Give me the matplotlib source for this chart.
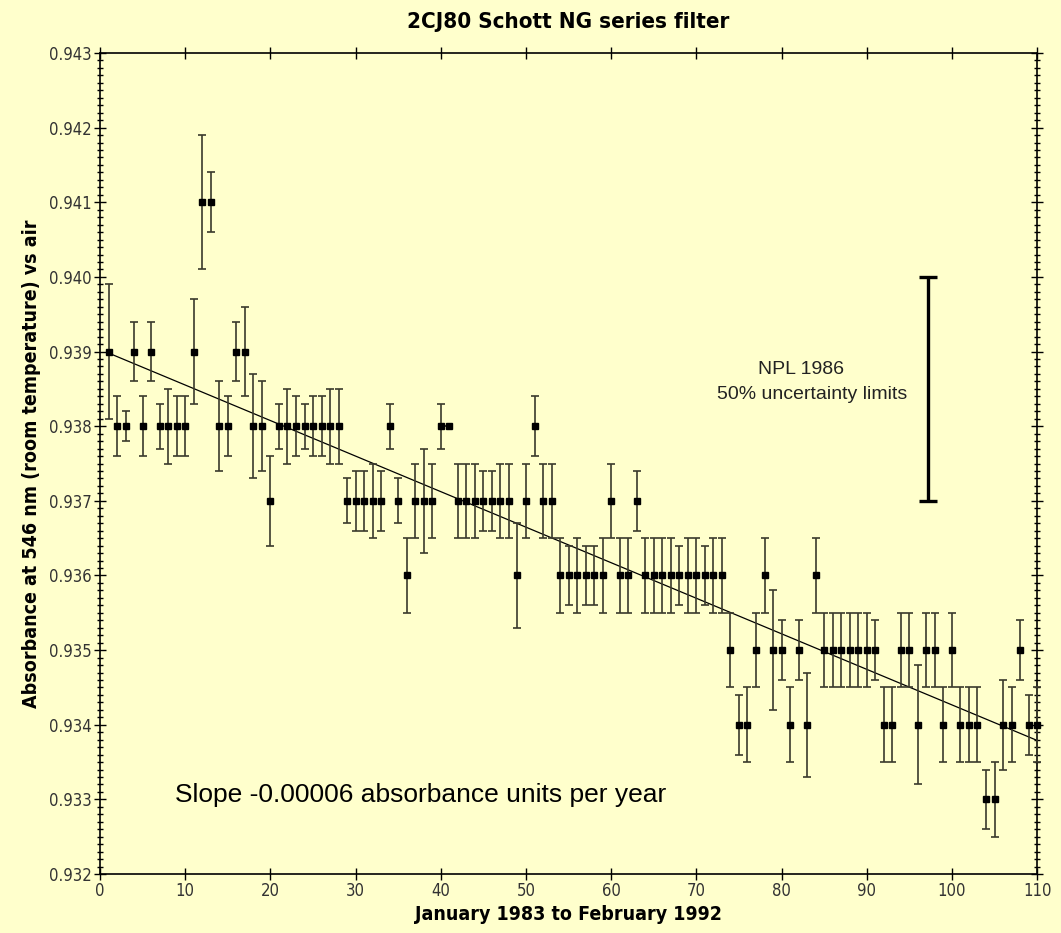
import matplotlib
matplotlib.use("Agg")
import matplotlib.pyplot as plt
from matplotlib.ticker import MultipleLocator, FormatStrFormatter

# Datos: mes (enero 1983 = 1) y absorbancia a 546 nm
meses = list(range(1, 111))
absorbancia = [
    0.939, 0.938, 0.938, 0.939, 0.938, 0.939, 0.938, 0.938, 0.938, 0.938,
    0.939, 0.941, 0.941, 0.938, 0.938, 0.939, 0.939, 0.938, 0.938, 0.937,
    0.938, 0.938, 0.938, 0.938, 0.938, 0.938, 0.938, 0.938, 0.937, 0.937,
    0.937, 0.937, 0.937, 0.938, 0.937, 0.936, 0.937, 0.937, 0.937, 0.938,
    0.938, 0.937, 0.937, 0.937, 0.937, 0.937, 0.937, 0.937, 0.936, 0.937,
    0.938, 0.937, 0.937, 0.936, 0.936, 0.936, 0.936, 0.936, 0.936, 0.937,
    0.936, 0.936, 0.937, 0.936, 0.936, 0.936, 0.936, 0.936, 0.936, 0.936,
    0.936, 0.936, 0.936, 0.935, 0.934, 0.934, 0.935, 0.936, 0.935, 0.935,
    0.934, 0.935, 0.934, 0.936, 0.935, 0.935, 0.935, 0.935, 0.935, 0.935,
    0.935, 0.934, 0.934, 0.935, 0.935, 0.934, 0.935, 0.935, 0.934, 0.935,
    0.934, 0.934, 0.934, 0.933, 0.933, 0.934, 0.934, 0.935, 0.934, 0.934,
]
# Incertidumbre (en milésimas de absorbancia)
incert_mil = [
    0.9, 0.4, 0.2, 0.4, 0.4, 0.4, 0.3, 0.5, 0.4, 0.4,
    0.7, 0.9, 0.4, 0.6, 0.4, 0.4, 0.6, 0.7, 0.6, 0.6,
    0.3, 0.5, 0.4, 0.3, 0.4, 0.4, 0.5, 0.5, 0.3, 0.4,
    0.4, 0.5, 0.4, 0.3, 0.3, 0.5, 0.5, 0.7, 0.5, 0.3,
    0.0, 0.5, 0.5, 0.5, 0.4, 0.4, 0.5, 0.5, 0.7, 0.5,
    0.4, 0.5, 0.5, 0.5, 0.4, 0.5, 0.4, 0.4, 0.5, 0.5,
    0.5, 0.5, 0.4, 0.5, 0.5, 0.5, 0.5, 0.4, 0.5, 0.5,
    0.4, 0.5, 0.5, 0.5, 0.4, 0.5, 0.5, 0.5, 0.8, 0.4,
    0.5, 0.4, 0.7, 0.5, 0.5, 0.5, 0.5, 0.5, 0.5, 0.5,
    0.4, 0.5, 0.5, 0.5, 0.5, 0.8, 0.5, 0.5, 0.5, 0.5,
    0.5, 0.5, 0.5, 0.4, 0.5, 0.6, 0.5, 0.4, 0.4, 0.5,
]
incert = [v / 1000 for v in incert_mil]

# Recta de ajuste (extremos)
ajuste_x = [1, 110]
ajuste_y = [0.93898, 0.93379]

# Barra de incertidumbre NPL 1986
npl_x = 97.15
npl_y = 0.9385
npl_err = 0.0015

fondo = "#FFFFCC"

fig = plt.figure(figsize=(10.61, 9.33), dpi=100, facecolor=fondo)
ax = fig.add_axes([0.0943, 0.0632, 0.8832, 0.88])
ax.set_facecolor(fondo)

ax.plot(ajuste_x, ajuste_y, color="black", linewidth=0.9, zorder=2)

ax.errorbar(meses, absorbancia, yerr=incert, fmt="s", color="black",
            markersize=3.8, ecolor="#3a3a2c", elinewidth=1.2,
            capsize=2.6, capthick=1.2, zorder=3, clip_on=False)

ax.errorbar([npl_x], [npl_y], yerr=[npl_err], fmt="none", ecolor="black",
            elinewidth=2.4, capsize=6.5, capthick=2.4, zorder=3)

ax.text(82.3, 0.93876, "NPL 1986", ha="center", va="center",
        fontsize=14, family="Liberation Sans", color="#222222")
ax.text(83.6, 0.93843, "50% uncertainty limits", ha="center", va="center",
        fontsize=14, family="Liberation Sans", color="#222222")
ax.text(8.8, 0.93306, "Slope -0.00006 absorbance units per year", ha="left",
        va="center", fontsize=19, family="Liberation Sans", color="black")

ax.set_xlim(0, 110)
ax.set_ylim(0.932, 0.943)
ax.xaxis.set_major_locator(MultipleLocator(10))
ax.yaxis.set_major_locator(MultipleLocator(0.001))
ax.yaxis.set_minor_locator(MultipleLocator(0.0001))
ax.yaxis.set_major_formatter(FormatStrFormatter("%.3f"))

ax.tick_params(axis="both", which="major", direction="inout", length=8,
               width=1, top=True, right=True, labelsize=12, pad=2)
ax.tick_params(axis="y", which="minor", direction="inout", length=4,
               width=1, right=True)
for lab in ax.get_xticklabels() + ax.get_yticklabels():
    lab.set_family("DejaVu Sans")
    lab.set_stretch("condensed")
    lab.set_color("#333333")

for s in ax.spines.values():
    s.set_linewidth(1.2)

ax.set_title("2CJ80 Schott NG series filter", fontsize=16, fontweight="bold",
             family="DejaVu Sans", fontstretch="condensed", pad=18)
ax.set_xlabel("January 1983 to February 1992", fontsize=14,
              fontweight="bold", family="DejaVu Sans",
              fontstretch="condensed", labelpad=3)
ax.set_ylabel("Absorbance at 546 nm (room temperature) vs air", fontsize=14,
              fontweight="bold", family="DejaVu Sans",
              fontstretch="condensed", labelpad=6)

fig.savefig("out.png", dpi=100, facecolor=fondo)
